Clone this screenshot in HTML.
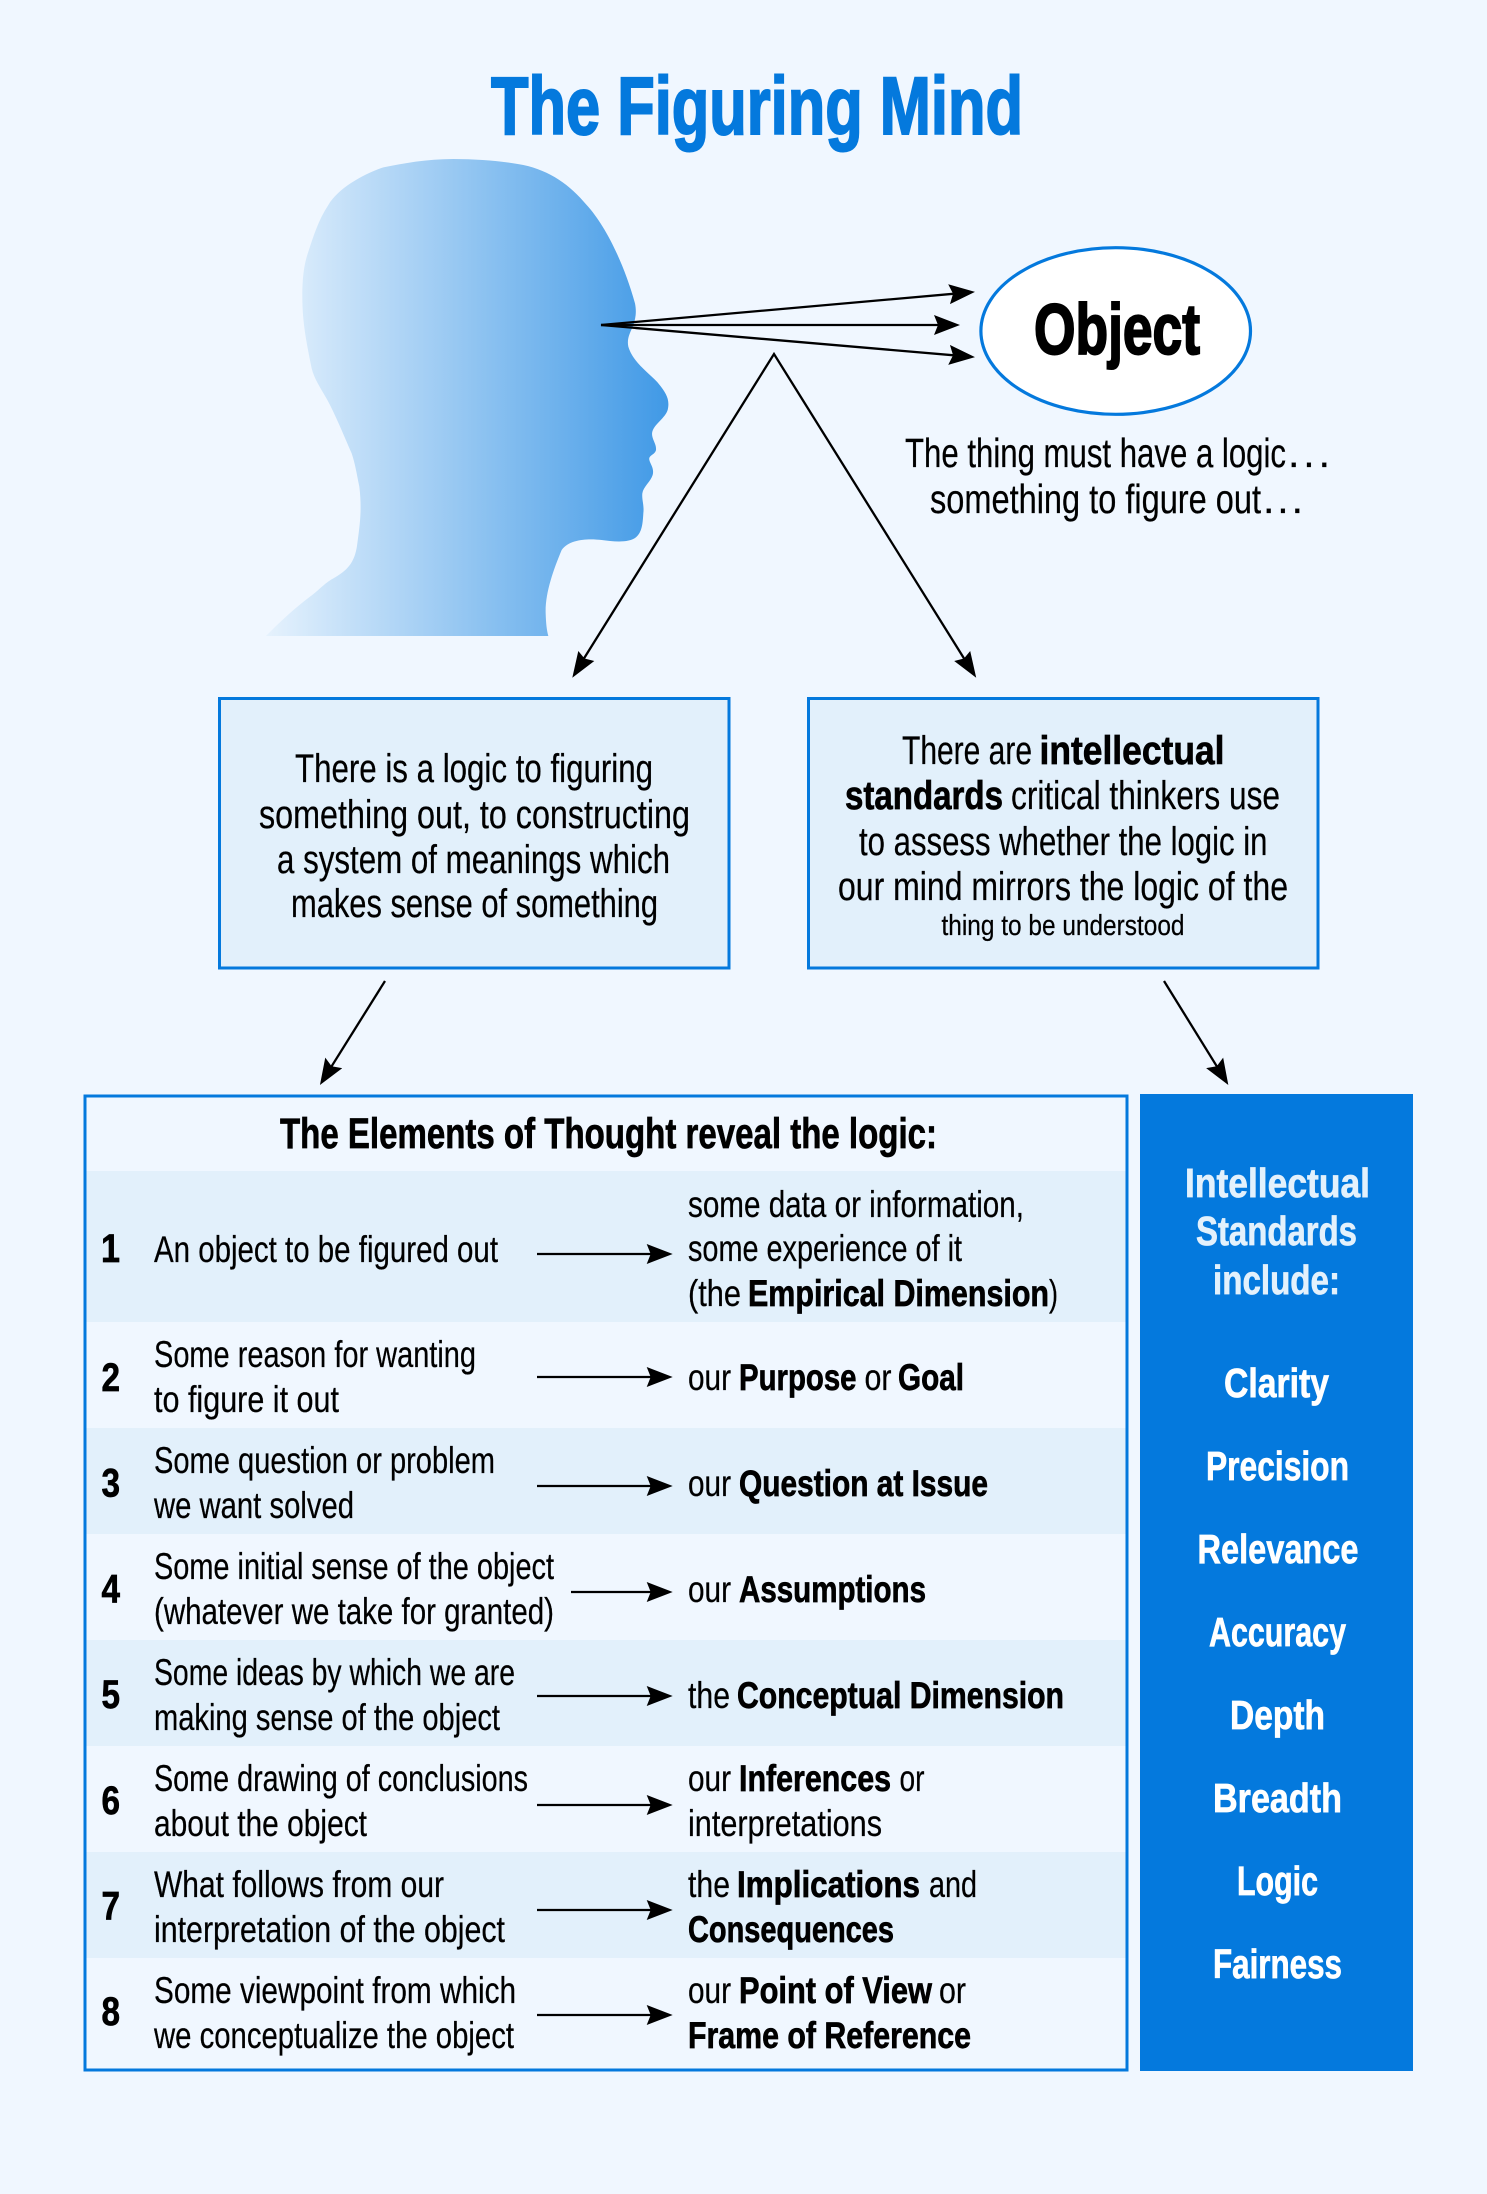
<!DOCTYPE html>
<html lang="en">
<head>
<meta charset="utf-8">
<title>The Figuring Mind</title>
<style>
html,body{margin:0;padding:0;background:#f0f7ff}
svg{display:block}
text{font-family:"Liberation Sans",sans-serif;fill:#000;font-size:37px;stroke:#000;stroke-width:.25px}
text.b{font-weight:700;stroke-width:.7px}
text.h{fill:#e3f1fc;stroke:#e3f1fc;stroke-width:.7px;font-weight:700;font-size:41px}
text.w{fill:#fff;stroke:#fff;stroke-width:.7px;font-weight:700;font-size:41px}
.l{fill:none;stroke:#000;stroke-width:2.3}
</style>
</head>
<body>
<svg xmlns="http://www.w3.org/2000/svg" width="1487" height="2194" viewBox="0 0 1487 2194">
<defs>
<linearGradient id="g" gradientUnits="userSpaceOnUse" x1="78" y1="0" x2="1285" y2="0">
<stop offset="0" stop-color="#e6f2fd"/>
<stop offset="1" stop-color="#4099e6"/>
</linearGradient>
<marker id="a" markerUnits="userSpaceOnUse" markerWidth="28" markerHeight="22" refX="21" refY="10" orient="auto">
<path d="M0 0L26 10L0 20L4 10Z" fill="#000"/>
</marker>
</defs>
<rect width="1487" height="2194" fill="#f0f7ff"/>

<text x="491" y="134" class="b" style="font-size:82px;fill:#0479dd;stroke:#0479dd;stroke-width:2px" textLength="532" lengthAdjust="spacingAndGlyphs">The Figuring Mind</text>

<g transform="translate(240 130) scale(.33333)">
<path fill="url(#g)" d="M78 1518C120 1475 170 1430 210 1400C240 1378 250 1362 280 1345C320 1322 345 1300 352 1240C362 1170 365 1130 358 1070C350 1030 345 1000 335 970C315 925 295 875 270 825C250 785 225 755 215 715C200 640 187 580 187 500C187 430 195 395 205 365C220 320 235 270 265 225C295 175 365 135 430 112C490 100 560 87 640 87C720 87 800 95 850 105C930 122 990 165 1040 225C1095 285 1150 395 1185 520C1190 545 1187 565 1180 585C1170 610 1160 625 1165 650C1180 700 1230 730 1255 760C1280 790 1290 810 1283 840C1275 865 1245 880 1237 905C1232 925 1250 940 1248 960C1245 975 1225 975 1228 990C1232 1005 1243 1015 1238 1035C1232 1055 1210 1070 1207 1090C1205 1110 1213 1125 1210 1150C1208 1185 1205 1205 1190 1220C1170 1240 1120 1235 1085 1230C1050 1226 990 1225 965 1260C940 1320 915 1390 917 1450C918 1480 920 1500 925 1518Z"/>
</g>

<ellipse cx="1115.7" cy="331" rx="134.8" ry="83.3" fill="#fff" stroke="#0479dd" stroke-width="3.2"/>
<text x="1034" y="354" class="b" style="font-size:71px;stroke-width:2px" textLength="166" lengthAdjust="spacingAndGlyphs">Object</text>

<line class="l" x1="601" y1="325" x2="970" y2="292.3" marker-end="url(#a)"/>
<line class="l" x1="601" y1="325" x2="955" y2="325" marker-end="url(#a)"/>
<line class="l" x1="601" y1="325" x2="970" y2="356.7" marker-end="url(#a)"/>
<path class="l" d="M583 660L774 354L965 660"/>
<path d="M572.3 677.7L578.3 651L584.5 658.5L594.3 661Z" fill="#000"/>
<path d="M976.2 677.7L970.2 651L964 658.5L954.2 661Z" fill="#000"/>
<line class="l" x1="385" y1="981" x2="322.6" y2="1080.7" marker-end="url(#a)"/>
<line class="l" x1="1164" y1="981" x2="1225.7" y2="1080.7" marker-end="url(#a)"/>

<text x="905" y="467" style="font-size:41px" textLength="381" lengthAdjust="spacingAndGlyphs">The thing must have a logic</text>
<text x="1288" y="467" style="font-size:41px" textLength="42">. . .</text>
<text x="930" y="513" style="font-size:41px" textLength="331" lengthAdjust="spacingAndGlyphs">something to figure out</text>
<text x="1263" y="513" style="font-size:41px" textLength="40">. . .</text>

<rect x="219.5" y="698.5" width="509.5" height="269.5" fill="#e2f0fb" stroke="#0479dd" stroke-width="3"/>
<rect x="808.5" y="698.5" width="509.5" height="269.5" fill="#e2f0fb" stroke="#0479dd" stroke-width="3"/>

<text x="295" y="782" style="font-size:40px" textLength="358" lengthAdjust="spacingAndGlyphs">There is a logic to figuring</text>
<text x="259" y="828" style="font-size:40px" textLength="431" lengthAdjust="spacingAndGlyphs">something out, to constructing</text>
<text x="277" y="873" style="font-size:40px" textLength="393" lengthAdjust="spacingAndGlyphs">a system of meanings which</text>
<text x="291" y="917" style="font-size:40px" textLength="367" lengthAdjust="spacingAndGlyphs">makes sense of something</text>

<text x="902" y="764" style="font-size:40px" textLength="130" lengthAdjust="spacingAndGlyphs">There are</text>
<text x="1039.5" y="764" class="b" style="font-size:40px" textLength="185" lengthAdjust="spacingAndGlyphs">intellectual</text>
<text x="845" y="809" class="b" style="font-size:40px" textLength="158" lengthAdjust="spacingAndGlyphs">standards</text>
<text x="1011" y="809" style="font-size:40px" textLength="269" lengthAdjust="spacingAndGlyphs">critical thinkers use</text>
<text x="859" y="855" style="font-size:40px" textLength="408.5" lengthAdjust="spacingAndGlyphs">to assess whether the logic in</text>
<text x="838" y="900" style="font-size:40px" textLength="450" lengthAdjust="spacingAndGlyphs">our mind mirrors the logic of the</text>
<text x="941.5" y="935" style="font-size:29px" textLength="243" lengthAdjust="spacingAndGlyphs">thing to be understood</text>

<rect x="86" y="1171" width="1040" height="151" fill="#e2f0fb"/>
<rect x="86" y="1428" width="1040" height="106" fill="#e2f0fb"/>
<rect x="86" y="1640" width="1040" height="106" fill="#e2f0fb"/>
<rect x="86" y="1852" width="1040" height="106" fill="#e2f0fb"/>
<rect x="85" y="1096" width="1042" height="974" fill="none" stroke="#0479dd" stroke-width="3"/>

<text x="280" y="1148" class="b" style="font-size:43px" textLength="657" lengthAdjust="spacingAndGlyphs">The Elements of Thought reveal the logic:</text>

<text x="101" y="1262" class="b" style="font-size:40px" textLength="19" lengthAdjust="spacingAndGlyphs">1</text>
<text x="101.5" y="1391" class="b" style="font-size:40px" textLength="18.5" lengthAdjust="spacingAndGlyphs">2</text>
<text x="101.5" y="1496.7" class="b" style="font-size:40px" textLength="18.5" lengthAdjust="spacingAndGlyphs">3</text>
<text x="101.5" y="1602.4" class="b" style="font-size:40px" textLength="18.5" lengthAdjust="spacingAndGlyphs">4</text>
<text x="101.5" y="1708" class="b" style="font-size:40px" textLength="18.5" lengthAdjust="spacingAndGlyphs">5</text>
<text x="101.5" y="1813.8" class="b" style="font-size:40px" textLength="18.5" lengthAdjust="spacingAndGlyphs">6</text>
<text x="101.5" y="1919.5" class="b" style="font-size:40px" textLength="18.5" lengthAdjust="spacingAndGlyphs">7</text>
<text x="101.5" y="2025" class="b" style="font-size:40px" textLength="18.5" lengthAdjust="spacingAndGlyphs">8</text>

<text x="154" y="1262" textLength="344" lengthAdjust="spacingAndGlyphs">An object to be figured out</text>
<text x="154" y="1367" textLength="322" lengthAdjust="spacingAndGlyphs">Some reason for wanting</text>
<text x="154" y="1412" textLength="185" lengthAdjust="spacingAndGlyphs">to figure it out</text>
<text x="154" y="1473" textLength="341" lengthAdjust="spacingAndGlyphs">Some question or problem</text>
<text x="154" y="1518" textLength="200" lengthAdjust="spacingAndGlyphs">we want solved</text>
<text x="154" y="1579" textLength="400" lengthAdjust="spacingAndGlyphs">Some initial sense of the object</text>
<text x="154" y="1624" textLength="400" lengthAdjust="spacingAndGlyphs">(whatever we take for granted)</text>
<text x="154" y="1685" textLength="361" lengthAdjust="spacingAndGlyphs">Some ideas by which we are</text>
<text x="154" y="1730" textLength="346" lengthAdjust="spacingAndGlyphs">making sense of the object</text>
<text x="154" y="1791" textLength="374" lengthAdjust="spacingAndGlyphs">Some drawing of conclusions</text>
<text x="154" y="1836" textLength="213" lengthAdjust="spacingAndGlyphs">about the object</text>
<text x="154" y="1897" textLength="290" lengthAdjust="spacingAndGlyphs">What follows from our</text>
<text x="154" y="1942" textLength="351" lengthAdjust="spacingAndGlyphs">interpretation of the object</text>
<text x="154" y="2003" textLength="362" lengthAdjust="spacingAndGlyphs">Some viewpoint from which</text>
<text x="154" y="2048" textLength="360" lengthAdjust="spacingAndGlyphs">we conceptualize the object</text>

<line class="l" x1="537" y1="1254" x2="667.7" y2="1254" marker-end="url(#a)"/>
<line class="l" x1="537" y1="1377" x2="667.7" y2="1377" marker-end="url(#a)"/>
<line class="l" x1="537" y1="1486" x2="667.7" y2="1486" marker-end="url(#a)"/>
<line class="l" x1="571" y1="1592" x2="667.7" y2="1592" marker-end="url(#a)"/>
<line class="l" x1="537" y1="1696" x2="667.7" y2="1696" marker-end="url(#a)"/>
<line class="l" x1="537" y1="1805" x2="667.7" y2="1805" marker-end="url(#a)"/>
<line class="l" x1="537" y1="1910" x2="667.7" y2="1910" marker-end="url(#a)"/>
<line class="l" x1="537" y1="2015" x2="667.7" y2="2015" marker-end="url(#a)"/>

<text x="688" y="1217" textLength="336" lengthAdjust="spacingAndGlyphs">some data or information,</text>
<text x="688" y="1261" textLength="274" lengthAdjust="spacingAndGlyphs">some experience of it</text>
<text x="688" y="1306" textLength="53" lengthAdjust="spacingAndGlyphs">(the</text>
<text x="748" y="1306" class="b" textLength="301" lengthAdjust="spacingAndGlyphs">Empirical Dimension</text>
<text x="1049" y="1306" textLength="9" lengthAdjust="spacingAndGlyphs">)</text>

<text x="688" y="1390" textLength="43" lengthAdjust="spacingAndGlyphs">our</text>
<text x="739" y="1390" class="b" textLength="117.5" lengthAdjust="spacingAndGlyphs">Purpose</text>
<text x="864.5" y="1390" textLength="27" lengthAdjust="spacingAndGlyphs">or</text>
<text x="898" y="1390" class="b" textLength="66" lengthAdjust="spacingAndGlyphs">Goal</text>

<text x="688" y="1496" textLength="43" lengthAdjust="spacingAndGlyphs">our</text>
<text x="739" y="1496" class="b" textLength="249" lengthAdjust="spacingAndGlyphs">Question at Issue</text>

<text x="688" y="1602" textLength="43" lengthAdjust="spacingAndGlyphs">our</text>
<text x="739" y="1602" class="b" textLength="187" lengthAdjust="spacingAndGlyphs">Assumptions</text>

<text x="688" y="1708" textLength="42" lengthAdjust="spacingAndGlyphs">the</text>
<text x="737" y="1708" class="b" textLength="327" lengthAdjust="spacingAndGlyphs">Conceptual Dimension</text>

<text x="688" y="1791" textLength="43" lengthAdjust="spacingAndGlyphs">our</text>
<text x="739" y="1791" class="b" textLength="152" lengthAdjust="spacingAndGlyphs">Inferences</text>
<text x="899.5" y="1791" textLength="25" lengthAdjust="spacingAndGlyphs">or</text>
<text x="688" y="1836" textLength="194" lengthAdjust="spacingAndGlyphs">interpretations</text>

<text x="688" y="1897" textLength="42" lengthAdjust="spacingAndGlyphs">the</text>
<text x="737" y="1897" class="b" textLength="183" lengthAdjust="spacingAndGlyphs">Implications</text>
<text x="929" y="1897" textLength="48" lengthAdjust="spacingAndGlyphs">and</text>
<text x="688" y="1942" class="b" textLength="206" lengthAdjust="spacingAndGlyphs">Consequences</text>

<text x="688" y="2003" textLength="43" lengthAdjust="spacingAndGlyphs">our</text>
<text x="739" y="2003" class="b" textLength="193" lengthAdjust="spacingAndGlyphs">Point of View</text>
<text x="939" y="2003" textLength="27" lengthAdjust="spacingAndGlyphs">or</text>
<text x="688" y="2048" class="b" textLength="283" lengthAdjust="spacingAndGlyphs">Frame of Reference</text>

<rect x="1140" y="1094" width="273" height="977" fill="#0479dd"/>
<text x="1185" y="1197" class="h" textLength="185" lengthAdjust="spacingAndGlyphs">Intellectual</text>
<text x="1196" y="1245" class="h" textLength="161" lengthAdjust="spacingAndGlyphs">Standards</text>
<text x="1213" y="1294" class="h" textLength="127" lengthAdjust="spacingAndGlyphs">include:</text>
<text x="1224" y="1397" class="w" textLength="105" lengthAdjust="spacingAndGlyphs">Clarity</text>
<text x="1206" y="1480" class="w" textLength="143" lengthAdjust="spacingAndGlyphs">Precision</text>
<text x="1197.5" y="1563" class="w" textLength="161" lengthAdjust="spacingAndGlyphs">Relevance</text>
<text x="1209" y="1646" class="w" textLength="137" lengthAdjust="spacingAndGlyphs">Accuracy</text>
<text x="1230" y="1729" class="w" textLength="95" lengthAdjust="spacingAndGlyphs">Depth</text>
<text x="1213" y="1812" class="w" textLength="129" lengthAdjust="spacingAndGlyphs">Breadth</text>
<text x="1237" y="1895" class="w" textLength="81" lengthAdjust="spacingAndGlyphs">Logic</text>
<text x="1213" y="1978" class="w" textLength="129" lengthAdjust="spacingAndGlyphs">Fairness</text>
</svg>
</body>
</html>
